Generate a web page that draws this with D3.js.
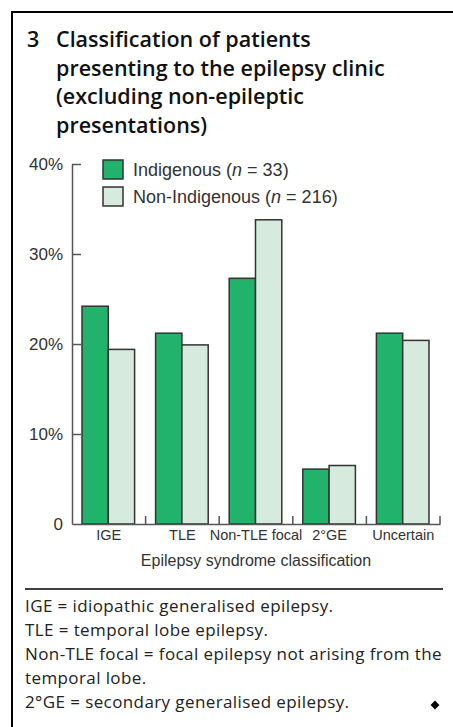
<!DOCTYPE html>
<html>
<head>
<meta charset="utf-8">
<script src="https://cdn.jsdelivr.net/npm/d3@7"></script>
<style>
  body { margin: 0; background: #fff; }
  svg { display: block; }
</style>
</head>
<body>
<svg id="chart"></svg>
<script>
// data
var categories = ["IGE", "TLE", "Non-TLE focal", "2°GE", "Uncertain"];
var seriesNames = ["Indigenous", "Non-Indigenous"];
var seriesN = ["33", "216"];
var indigenous = [24.2, 21.2, 27.3, 6.1, 21.2];
var nonIndigenous = [19.4, 19.9, 33.8, 6.5, 20.4];
var yTicks = [0, 10, 20, 30, 40];
var titleLines = ["Classification of patients", "presenting to the epilepsy clinic",
                  "(excluding non-epileptic", "presentations)"];
var footnotes = ["IGE = idiopathic generalised epilepsy.",
                 "TLE = temporal lobe epilepsy.",
                 "Non-TLE focal = focal epilepsy not arising from the",
                 "temporal lobe.",
                 "2°GE = secondary generalised epilepsy."];

var config = { w: 453, h: 727, left: 72, right: 440, top: 164, bottom: 524 };
var colors = ["#21b26b", "#d6ebdd"];
var axisFont = "'Liberation Sans', Arial, sans-serif";
var textFont = "'Open Sans', Lato, sans-serif";

var svg = d3.select("#chart").attr("width", config.w).attr("height", config.h);

svg.append("rect").attr("width", config.w).attr("height", config.h).attr("fill", "#fff");

// frame
svg.append("path")
  .attr("d", "M12," + config.h + "V12H" + config.w)
  .attr("fill", "none").attr("stroke", "#000").attr("stroke-width", 2);

// title
var title = svg.append("g").attr("font-family", textFont).attr("font-weight", 600)
  .attr("font-size", 21.5).attr("fill", "#111");
title.append("text").attr("x", 27).attr("y", 47).text("3");
title.selectAll("text.line").data(titleLines).enter().append("text")
  .attr("class", "line")
  .attr("x", 56)
  .attr("y", function(d, i) { return 47 + i * 28.5; })
  .text(function(d) { return d; });

// scales
var x = d3.scaleBand().domain(categories).range([config.left, config.right]).padding(0);
var y = d3.scaleLinear().domain([0, 40]).range([config.bottom, config.top]);
var inner = d3.scaleBand().domain(seriesNames).range([10, x.bandwidth() - 11]).padding(0);

var rows = categories.map(function(c, i) {
  return { cat: c, values: [indigenous[i], nonIndigenous[i]] };
});

var g = svg.append("g");

// bars
var groups = g.selectAll("g.grp").data(rows).enter().append("g")
  .attr("class", "grp")
  .attr("transform", function(d) { return "translate(" + x(d.cat) + ",0)"; });

groups.selectAll("rect").data(function(d) {
    return d.values.map(function(v, j) { return { s: seriesNames[j], v: v, j: j }; });
  }).enter().append("rect")
  .attr("x", function(d) { return inner(d.s); })
  .attr("width", inner.bandwidth())
  .attr("y", function(d) { return y(d.v); })
  .attr("height", function(d) { return y(0) - y(d.v); })
  .attr("fill", function(d) { return colors[d.j]; })
  .attr("stroke", "#333")
  .attr("stroke-width", 1.5);

// y axis
var yAxis = d3.axisLeft(y)
  .tickValues(yTicks)
  .tickFormat(function(d) { return d === 0 ? "0" : d + "%"; })
  .tickSizeInner(-9)
  .tickSizeOuter(0)
  .tickPadding(9);

var ya = g.append("g").attr("transform", "translate(" + config.left + ",0)").call(yAxis);
ya.selectAll("path, line").attr("stroke", "#555").attr("stroke-width", 1.5);
ya.selectAll("text").attr("font-family", axisFont).attr("font-size", 17)
  .attr("fill", "#333").attr("dy", "0.35em");
ya.select(".tick line").filter(function(d) { return d === 0; }).remove();

// x axis
var xAxis = d3.axisBottom(x).tickSize(0).tickPadding(6);
var xa = g.append("g").attr("transform", "translate(0," + config.bottom + ")").call(xAxis);
xa.select(".domain").attr("stroke", "#555").attr("stroke-width", 1.5);
xa.selectAll("text").attr("font-family", axisFont).attr("font-size", 14.5).attr("fill", "#333");

// upward ticks between groups
xa.selectAll("line.sep").data(categories).enter().append("line")
  .attr("class", "sep")
  .attr("x1", function(d) { return x(d) + x.bandwidth(); })
  .attr("x2", function(d) { return x(d) + x.bandwidth(); })
  .attr("y1", 0).attr("y2", -8)
  .attr("stroke", "#555").attr("stroke-width", 1.5);

g.append("text")
  .attr("x", (config.left + config.right) / 2)
  .attr("y", 566)
  .attr("text-anchor", "middle")
  .attr("font-family", axisFont).attr("font-size", 16).attr("fill", "#333")
  .text("Epilepsy syndrome classification");

// legend
var leg = svg.append("g").attr("transform", "translate(103,160)");
var items = leg.selectAll("g").data(seriesNames).enter().append("g")
  .attr("transform", function(d, i) { return "translate(0," + (i * 27) + ")"; });
items.append("rect").attr("width", 20).attr("height", 19)
  .attr("fill", function(d, i) { return colors[i]; })
  .attr("stroke", "#333").attr("stroke-width", 1.5);
var lt = items.append("text").attr("x", 30).attr("y", 16)
  .attr("font-family", axisFont).attr("font-size", 18).attr("fill", "#333");
lt.append("tspan").text(function(d) { return d + " ("; });
lt.append("tspan").attr("font-style", "italic").text("n");
lt.append("tspan").text(function(d, i) { return " = " + seriesN[i] + ")"; });

// separator and footnotes
svg.append("line").attr("x1", 25).attr("x2", 443).attr("y1", 589).attr("y2", 589)
  .attr("stroke", "#000").attr("stroke-width", 1.5);

svg.append("g").attr("font-family", textFont).attr("font-size", 17).attr("fill", "#222")
  .attr("letter-spacing", 0.4)
  .selectAll("text").data(footnotes).enter().append("text")
  .attr("x", 25)
  .attr("y", function(d, i) { return 612 + i * 24; })
  .text(function(d) { return d; });

svg.append("path")
  .attr("d", d3.symbol().type(d3.symbolDiamond2).size(50))
  .attr("transform", "translate(435,705)")
  .attr("fill", "#000");
</script>
</body>
</html>
